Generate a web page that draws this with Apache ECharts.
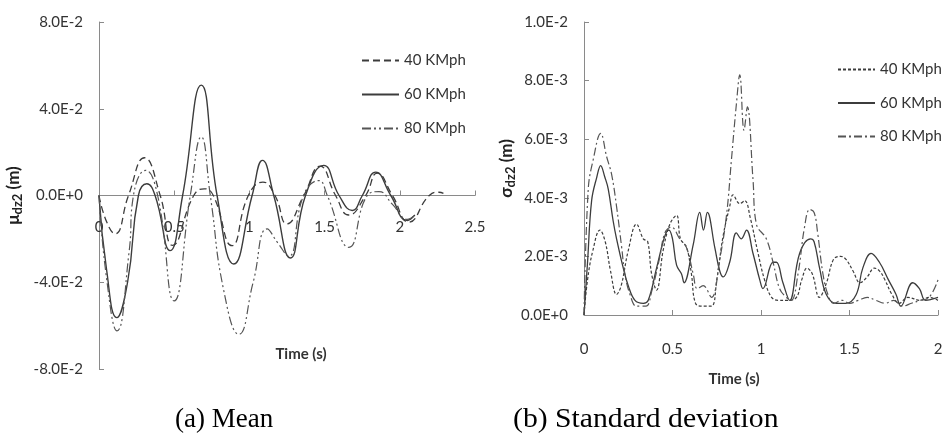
<!DOCTYPE html>
<html>
<head>
<meta charset="utf-8">
<script src="https://cdn.jsdelivr.net/npm/echarts@6/dist/echarts.min.js"></script>
<style>
html,body{margin:0;padding:0;background:#fff;}
#chart{width:942px;height:438px;}
</style>
</head>
<body>
<div id="chart"></div>
<script>
// ---------- (a) Mean ----------
const meanXTicks = ['0', '0.5', '1', '1.5', '2', '2.5'];
const meanYTicks = ['-8.0E-2', '-4.0E-2', '0.0E+0', '4.0E-2', '8.0E-2'];

const mean40T = [0, 0.05, 0.107, 0.196, 0.302, 0.407, 0.49, 0.63, 0.70, 0.76, 0.884, 0.993, 1.09, 1.17, 1.25, 1.362, 1.47, 1.573, 1.66, 1.773, 1.85, 1.951, 2.06, 2.196, 2.26, 2.29];
const mean40V = [0, -0.012, -0.0177, 0, 0.0174, 0, -0.023, 0, 0.0031, 0, -0.0231, 0, 0.0062, 0, -0.0131, 0, 0.0135, 0, -0.009, 0, 0.0103, 0, -0.0123, 0, 0.0015, 0.001];

const mean60T = [0, 0.05, 0.118, 0.19, 0.262, 0.318, 0.373, 0.473, 0.556, 0.68, 0.785, 0.896, 1.018, 1.087, 1.162, 1.273, 1.373, 1.494, 1.596, 1.684, 1.751, 1.84, 1.94, 2.05, 2.1];
const mean60V = [0, -0.034, -0.0563, -0.04, 0, 0.0054, 0, -0.0254, 0, 0.0509, 0, -0.0316, 0, 0.0162, 0, -0.0288, 0, 0.0139, 0, -0.0069, 0, 0.0108, 0, -0.0115, -0.009];

const mean80T = [0, 0.05, 0.12, 0.2, 0.229, 0.31, 0.39, 0.5, 0.607, 0.68, 0.74, 0.83, 0.93, 1.025, 1.118, 1.19, 1.26, 1.36, 1.462, 1.518, 1.662, 1.784, 1.862, 1.95, 2.05, 2.1];
const mean80V = [0, -0.038, -0.0624, -0.026, 0, 0.0116, 0, -0.0486, 0, 0.027, 0, -0.044, -0.064, -0.04, -0.0154, -0.022, -0.028, 0, 0.0069, 0, -0.0239, 0, 0.0018, -0.004, -0.011, -0.009];

// ---------- (b) Standard deviation ----------
const stdXTicks = ['0', '0.5', '1', '1.5', '2'];
const stdYTicks = ['0.0E+0', '2.0E-3', '4.0E-3', '6.0E-3', '8.0E-3', '1.0E-2'];

const std40T = [0, 0.02, 0.05, 0.09, 0.12, 0.15, 0.184, 0.21, 0.25, 0.297, 0.335, 0.36, 0.382, 0.41, 0.447, 0.485, 0.523, 0.545, 0.58, 0.607, 0.63, 0.67, 0.72, 0.75, 0.786, 0.823, 0.842, 0.88, 0.908, 0.94, 0.98, 1.02, 1.06, 1.1, 1.15, 1.2, 1.23, 1.26, 1.29, 1.33, 1.37, 1.41, 1.45, 1.48, 1.52, 1.56, 1.6, 1.64, 1.67, 1.7, 1.74, 1.78, 1.83, 1.9, 1.95, 2.0];
const std40V = [0, 0.0012, 0.0022, 0.0029, 0.0025, 0.0015, 0.0007, 0.001, 0.0022, 0.0031, 0.0026, 0.0025, 0.0014, 0.00085, 0.0022, 0.0031, 0.0034, 0.0026, 0.0023, 0.0014, 0.0004, 0.0003, 0.0003, 0.0012, 0.0027, 0.0037, 0.0041, 0.0038, 0.0039, 0.0033, 0.0022, 0.0012, 0.0006, 0.0005, 0.0005, 0.0006, 0.0012, 0.0016, 0.0014, 0.0006, 0.0011, 0.0019, 0.002, 0.0019, 0.0015, 0.0011, 0.0013, 0.0016, 0.0015, 0.0012, 0.0007, 0.0004, 0.0006, 0.0005, 0.0006, 0.0005];

const std60T = [0, 0.02, 0.043, 0.072, 0.094, 0.118, 0.137, 0.165, 0.184, 0.222, 0.25, 0.288, 0.335, 0.363, 0.41, 0.457, 0.48, 0.5, 0.523, 0.551, 0.565, 0.617, 0.654, 0.675, 0.697, 0.739, 0.767, 0.786, 0.823, 0.861, 0.889, 0.918, 0.955, 0.993, 1.011, 1.068, 1.087, 1.124, 1.162, 1.218, 1.28, 1.3, 1.331, 1.369, 1.425, 1.48, 1.538, 1.575, 1.622, 1.669, 1.72, 1.763, 1.79, 1.857, 1.895, 1.93, 2.0];
const std60V = [0, 0.0018, 0.0039, 0.0047, 0.0051, 0.0047, 0.0043, 0.0032, 0.0026, 0.0016, 0.001, 0.0005, 0.0004, 0.0005, 0.0016, 0.0027, 0.0029, 0.0026, 0.0017, 0.0014, 0.0011, 0.0024, 0.0035, 0.0029, 0.0035, 0.0023, 0.0015, 0.0013, 0.0018, 0.0028, 0.0026, 0.0029, 0.0021, 0.0012, 0.0009, 0.0018, 0.0018, 0.0011, 0.0005, 0.0021, 0.0026, 0.0025, 0.0016, 0.0007, 0.0004, 0.0004, 0.0007, 0.0016, 0.0021, 0.0018, 0.0012, 0.0007, 0.0003, 0.0011, 0.0009, 0.0005, 0.0006];

const std80T = [0, 0.024, 0.052, 0.094, 0.128, 0.156, 0.184, 0.213, 0.231, 0.26, 0.297, 0.35, 0.382, 0.429, 0.457, 0.494, 0.541, 0.579, 0.617, 0.64, 0.673, 0.72, 0.767, 0.805, 0.833, 0.861, 0.88, 0.904, 0.923, 0.955, 0.974, 1.03, 1.068, 1.105, 1.143, 1.171, 1.209, 1.246, 1.275, 1.3, 1.32, 1.35, 1.378, 1.41, 1.46, 1.5, 1.55, 1.6, 1.65, 1.7, 1.75, 1.8, 1.85, 1.9, 1.95, 2.0];
const std80V = [0, 0.0043, 0.0053, 0.0062, 0.0054, 0.0048, 0.0037, 0.0023, 0.0014, 0.0007, 0.0003, 0.0003, 0.0008, 0.002, 0.0028, 0.003, 0.0026, 0.0023, 0.0014, 0.0009, 0.001, 0.0006, 0.0019, 0.0034, 0.0053, 0.0072, 0.0082, 0.0063, 0.0071, 0.0046, 0.0031, 0.0026, 0.0018, 0.0009, 0.0006, 0.0005, 0.0014, 0.003, 0.0036, 0.0035, 0.0028, 0.0014, 0.0007, 0.0004, 0.0005, 0.0004, 0.0005, 0.0006, 0.0005, 0.0004, 0.0005, 0.0003, 0.0004, 0.0005, 0.0006, 0.0012];

const zip = (t, v) => t.map((x, i) => [x, v[i]]);

const FONT = 'Lato';
const AX = '#8a8a8a';
const LINE = '#3c3c3c';
const TXT = '#333';

function axisCommon() {
  return {
    axisTick: { show: true, inside: true, length: 5, lineStyle: { color: AX } },
    splitLine: { show: false },
  };
}

const nameRich = {
  b: { fontFamily: FONT, fontSize: 17, fontWeight: 'bold', color: '#222', lineHeight: 21 },
  s: { fontFamily: FONT, fontSize: 13, fontWeight: 'bold', color: '#222', verticalAlign: 'bottom', lineHeight: 15 }
};

const chart = echarts.init(document.getElementById('chart'), null, { renderer: 'canvas' });

const option = {
  animation: false,
  backgroundColor: '#fff',
  graphic: [
    { type: 'text', left: 175, top: 406, z: 10,
      style: { text: '(a) Mean', fontFamily: 'Liberation Serif', fontSize: 27, fill: '#000' } },
    { type: 'text', x: 513, y: 406, scaleX: 1.1, z: 10,
      style: { text: '(b) Standard deviation', fontFamily: 'Liberation Serif', fontSize: 27, fill: '#000' } }
  ],
  legend: [
    { orient: 'vertical', left: 361, top: 53, padding: 0, itemWidth: 37, itemHeight: 14, itemGap: 19,
      data: ['40 KMph', '60 KMph', '80 KMph'],
      itemStyle: { opacity: 0 },
      textStyle: { fontFamily: FONT, fontSize: 15, color: TXT } },
    { orient: 'vertical', left: 837, top: 62, padding: 0, itemWidth: 37, itemHeight: 14, itemGap: 18.5,
      data: ['40 KMph (b)', '60 KMph (b)', '80 KMph (b)'],
      itemStyle: { opacity: 0 },
      formatter: n => n.replace(' (b)', ''),
      textStyle: { fontFamily: FONT, fontSize: 15, color: TXT } }
  ],
  grid: [
    { left: 99, top: 22, width: 376, height: 347, outerBoundsMode: 'none', containLabel: false },
    { left: 584, top: 22, width: 354, height: 293, outerBoundsMode: 'none', containLabel: false }
  ],
  xAxis: [
    Object.assign(axisCommon(), {
      type: 'value', gridIndex: 0, min: 0, max: 2.5, interval: 0.5,
      offset: -174,
      axisLine: { onZero: false, lineStyle: { color: AX, width: 1 } },
      axisLabel: { margin: 24, fontFamily: FONT, fontSize: 15, color: TXT,
        formatter: (v, i) => meanXTicks[i] },
      name: 'Time (s)', nameLocation: 'middle', nameGap: 151,
      nameTextStyle: { fontFamily: FONT, fontSize: 15, fontWeight: 'bold', color: TXT, padding: [0, 0, 0, 28] }
    }),
    Object.assign(axisCommon(), {
      type: 'value', gridIndex: 1, min: 0, max: 2, interval: 0.5,
      axisLine: { onZero: false, lineStyle: { color: AX, width: 1 } },
      axisLabel: { margin: 27, fontFamily: FONT, fontSize: 15, color: TXT,
        formatter: (v, i) => stdXTicks[i] },
      name: 'Time (s)', nameLocation: 'middle', nameGap: 57,
      nameTextStyle: { fontFamily: FONT, fontSize: 15, fontWeight: 'bold', color: TXT, padding: [0, 54, 0, 0] }
    })
  ],
  yAxis: [
    Object.assign(axisCommon(), {
      type: 'value', gridIndex: 0, min: -0.08, max: 0.08, interval: 0.04,
      axisLine: { onZero: false, lineStyle: { color: AX, width: 1 } },
      axisLabel: { margin: 16, fontFamily: FONT, fontSize: 15, color: TXT,
        formatter: (v, i) => meanYTicks[i] },
      name: '{b|μ}{s|dz2}{b| (m)}', nameLocation: 'middle', nameRotate: 90, nameGap: 75,
      nameTextStyle: { rich: nameRich }
    }),
    Object.assign(axisCommon(), {
      type: 'value', gridIndex: 1, min: 0, max: 0.01, interval: 0.002,
      axisLine: { onZero: false, lineStyle: { color: AX, width: 1 } },
      axisLabel: { margin: 16, fontFamily: FONT, fontSize: 15, color: TXT,
        formatter: (v, i) => stdYTicks[i] },
      name: '{b|σ}{s|dz2}{b| (m)}', nameLocation: 'middle', nameRotate: 90, nameGap: 62,
      nameTextStyle: { rich: nameRich }
    })
  ],
  series: [
    { name: '40 KMph', type: 'line', xAxisIndex: 0, yAxisIndex: 0, data: zip(mean40T, mean40V),
      smooth: 0.5, symbol: 'none', lineStyle: { color: LINE, width: 1.3, type: [7, 4] }, itemStyle: { color: LINE } },
    { name: '60 KMph', type: 'line', xAxisIndex: 0, yAxisIndex: 0, data: zip(mean60T, mean60V),
      smooth: 0.5, symbol: 'none', lineStyle: { color: LINE, width: 1.4, type: 'solid' }, itemStyle: { color: LINE } },
    { name: '80 KMph', type: 'line', xAxisIndex: 0, yAxisIndex: 0, data: zip(mean80T, mean80V),
      smooth: 0.5, symbol: 'none', lineStyle: { color: '#555', width: 1.2, type: [9, 3, 2, 3, 2, 3] }, itemStyle: { color: '#555' } },
    { name: '40 KMph (b)', type: 'line', xAxisIndex: 1, yAxisIndex: 1, data: zip(std40T, std40V),
      smooth: 0.4, symbol: 'none', lineStyle: { color: LINE, width: 1.2, type: [3, 2] }, itemStyle: { color: LINE } },
    { name: '60 KMph (b)', type: 'line', xAxisIndex: 1, yAxisIndex: 1, data: zip(std60T, std60V),
      smooth: 0.4, symbol: 'none', lineStyle: { color: LINE, width: 1.3, type: 'solid' }, itemStyle: { color: LINE } },
    { name: '80 KMph (b)', type: 'line', xAxisIndex: 1, yAxisIndex: 1, data: zip(std80T, std80V),
      smooth: 0.4, symbol: 'none', lineStyle: { color: '#555', width: 1.2, type: [8, 3, 2, 3] }, itemStyle: { color: '#555' } }
  ]
};
chart.setOption(option);

// keep the mean panel's time axis on the zero line (computed from the axis scale)
const zeroY = chart.convertToPixel({ yAxisIndex: 0 }, 0);
const gridBottom = 22 + 347;
chart.setOption({ xAxis: [{ offset: -(gridBottom - zeroY) }, {}] });
</script>
</body>
</html>
